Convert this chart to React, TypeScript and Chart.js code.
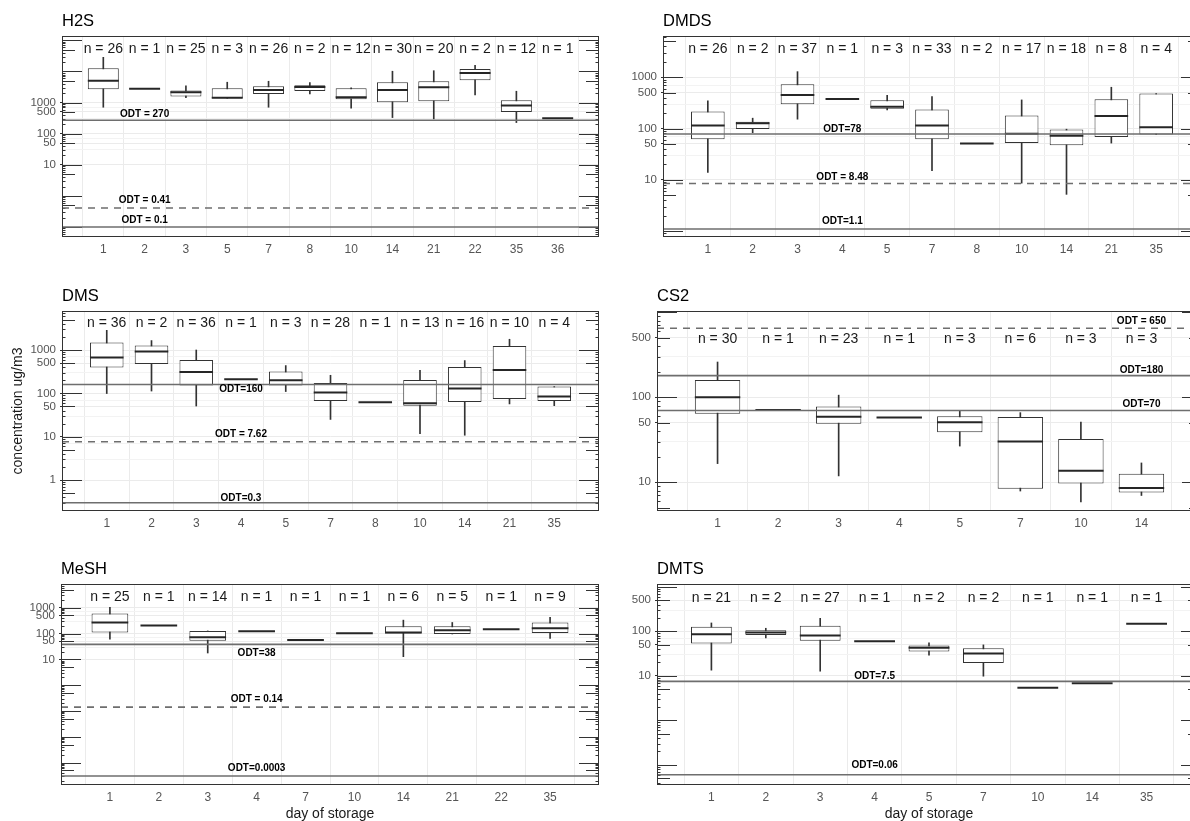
import React, { useEffect, useRef } from 'react';
import { Chart, registerables } from 'chart.js';

Chart.register(...registerables);

const FONT = '"Liberation Sans", Arial, Helvetica, sans-serif';

// ---------------- H2S ----------------
const h2sDays = [1, 2, 3, 5, 7, 8, 10, 14, 21, 22, 35, 36];
const h2sN = [26, 1, 25, 3, 26, 2, 12, 30, 20, 2, 12, 1];
const h2sLo = [710, null, 1450, 1380, 710, 1900, 660, 330, 300, 1770, 228, null];
const h2sQ1 = [2690, null, 1560, 1380, 1900, 2380, 1285, 1030, 1110, 5240, 500, null];
const h2sMed = [5080, 2810, 2160, 1420, 2560, 3190, 1490, 2560, 3120, 8970, 800, 315];
const h2sQ3 = [12700, null, 2430, 2900, 3360, 3610, 2900, 4520, 4860, 12080, 1190, null];
const h2sHi = [28600, null, 3430, 4520, 4860, 4390, 2960, 10200, 10600, 15850, 2320, null];
const h2sOdt = [270, 0.41, 0.1];
const h2sOdtText = ['ODT = 270', 'ODT = 0.41', 'ODT = 0.1'];
const h2sOdtTextY = [425, 0.75, 0.17];
const h2sOdtDashed = [false, true, false];
const h2sTickLabels = [1000, 500, 100, 50, 10];
const h2sRange = [0.0478, 138400];
const h2sNY = 53000;

// ---------------- DMDS ----------------
const dmdsDays = [1, 2, 3, 4, 5, 7, 8, 10, 14, 21, 35];
const dmdsN = [26, 2, 37, 1, 3, 33, 2, 17, 18, 8, 4];
const dmdsLo = [13.9, 83, 152, null, 231, 15, null, 8.6, 5.2, 52, 76];
const dmdsQ1 = [62, 98, 298, null, 242, 62, null, 52, 47, 68, 76];
const dmdsMed = [114, 127, 452, 378, 267, 114, 51, 79, 72, 176, 106];
const dmdsQ3 = [214, 136, 731, null, 357, 234, null, 179, 96, 373, 480];
const dmdsHi = [345, 159, 1285, null, 446, 419, null, 361, 97, 638, 480];
const dmdsOdt = [78, 8.48, 1.1];
const dmdsOdtText = ['ODT=78', 'ODT = 8.48', 'ODT=1.1'];
const dmdsOdtTextY = [97, 11.4, 1.54];
const dmdsOdtDashed = [false, true, false];
const dmdsTickLabels = [1000, 500, 100, 50, 10];
const dmdsRange = [0.766, 6370];
const dmdsNY = 3560;

// ---------------- DMS ----------------
const dmsDays = [1, 2, 3, 4, 5, 7, 8, 10, 14, 21, 35];
const dmsN = [36, 2, 36, 1, 3, 28, 1, 13, 16, 10, 4];
const dmsLo = [99, 113, 51, null, 110, 25, null, 11.8, 10.8, 57, 52];
const dmsQ1 = [393, 476, 151, null, 151, 67, null, 52, 63, 74, 67];
const dmsMed = [668, 919, 311, 211, 200, 104, 62, 59, 129, 346, 85];
const dmsQ3 = [1480, 1264, 588, null, 318, 173, null, 203, 405, 1238, 143];
const dmsHi = [2840, 1650, 1000, null, 437, 261, null, 340, 570, 1770, 143];
const dmsOdt = [160, 7.62, 0.3];
const dmsOdtText = ['ODT=160', 'ODT = 7.62', 'ODT=0.3'];
const dmsOdtTextY = [124, 11.2, 0.38];
const dmsOdtDashed = [false, true, false];
const dmsTickLabels = [1000, 500, 100, 50, 10, 1];
const dmsRange = [0.193, 7940];
const dmsNY = 4070;

// ---------------- CS2 ----------------
const cs2Days = [1, 2, 3, 4, 5, 7, 10, 14];
const cs2N = [30, 1, 23, 1, 3, 6, 3, 3];
const cs2Lo = [16.6, null, 11.9, null, 26.7, 7.9, 5.9, 7.0];
const cs2Q1 = [64, null, 49, null, 38.7, 8.4, 9.7, 7.6];
const cs2Med = [100, 71, 59, 58, 51, 30.3, 13.7, 8.6];
const cs2Q3 = [160, null, 78, null, 60, 58.6, 32.3, 12.6];
const cs2Hi = [260, null, 106, null, 70, 66, 51, 16.9];
const cs2Odt = [650, 180, 70];
const cs2OdtText = ['ODT = 650', 'ODT=180', 'ODT=70'];
const cs2OdtTextY = [791, 208, 82];
const cs2OdtDashed = [true, false, false];
const cs2TickLabels = [500, 100, 50, 10];
const cs2Range = [4.6, 1035];
const cs2NY = 478;

// ---------------- MeSH ----------------
const meshDays = [1, 2, 3, 4, 7, 10, 14, 21, 22, 35];
const meshN = [25, 1, 14, 1, 1, 1, 6, 5, 1, 9];
const meshLo = [60, null, 17.6, null, null, null, 12.7, 96, null, 64];
const meshQ1 = [109, null, 53, null, null, null, 100, 96, null, 105];
const meshMed = [268, 205, 72, 123, 56, 103, 109, 134, 147, 161];
const meshQ3 = [600, null, 126, null, null, null, 192, 192, null, 268];
const meshHi = [1027, null, 126, null, null, null, 330, 268, null, 420];
const meshOdt = [38, 0.14, 0.0003];
const meshOdtText = ['ODT=38', 'ODT = 0.14', 'ODT=0.0003'];
const meshOdtTextY = [16.7, 0.28, 0.00061];
const meshOdtDashed = [false, true, false];
const meshTickLabels = [1000, 500, 100, 50, 10];
const meshRange = [0.000135, 8300];
const meshNY = 2520;

// ---------------- DMTS ----------------
const dmtsDays = [1, 2, 3, 4, 5, 7, 10, 14, 35];
const dmtsN = [21, 2, 27, 1, 2, 2, 1, 1, 1];
const dmtsLo = [13.4, 71, 12.7, null, 29, 9.8, null, null, null];
const dmtsQ1 = [53, 83, 61, null, 35, 19.5, null, null, null];
const dmtsMed = [86, 93.5, 80, 60, 42.5, 31.6, 5.4, 6.8, 147];
const dmtsQ3 = [127, 105, 134, null, 47.8, 41.6, null, null, null];
const dmtsHi = [154, 117, 196, null, 55, 49.5, null, null, null];
const dmtsOdt = [7.5, 0.06];
const dmtsOdtText = ['ODT=7.5', 'ODT=0.06'];
const dmtsOdtTextY = [9.6, 0.1];
const dmtsOdtDashed = [false, false];
const dmtsTickLabels = [500, 100, 50, 10];
const dmtsRange = [0.0352, 1156];
const dmtsNY = 561;

type Panel = {
  name: string;
  days: number[];
  n: number[];
  lo: (number | null)[];
  q1: (number | null)[];
  med: number[];
  q3: (number | null)[];
  hi: (number | null)[];
  odt: number[];
  odtText: string[];
  odtTextY: number[];
  odtDashed: boolean[];
  odtDay: number;
  tickLabels: number[];
  range: number[];
  nY: number;
  rect: number[]; // left, top, right, bottom of the plot panel on the page
  xTitle: boolean;
  yTitle: boolean;
};

const panels: Panel[] = [
  { name: 'H2S', days: h2sDays, n: h2sN, lo: h2sLo, q1: h2sQ1, med: h2sMed, q3: h2sQ3, hi: h2sHi,
    odt: h2sOdt, odtText: h2sOdtText, odtTextY: h2sOdtTextY, odtDashed: h2sOdtDashed, odtDay: 2,
    tickLabels: h2sTickLabels, range: h2sRange, nY: h2sNY, rect: [62, 36, 599, 237], xTitle: false, yTitle: false },
  { name: 'DMDS', days: dmdsDays, n: dmdsN, lo: dmdsLo, q1: dmdsQ1, med: dmdsMed, q3: dmdsQ3, hi: dmdsHi,
    odt: dmdsOdt, odtText: dmdsOdtText, odtTextY: dmdsOdtTextY, odtDashed: dmdsOdtDashed, odtDay: 4,
    tickLabels: dmdsTickLabels, range: dmdsRange, nY: dmdsNY, rect: [663, 36, 1201, 237], xTitle: false, yTitle: false },
  { name: 'DMS', days: dmsDays, n: dmsN, lo: dmsLo, q1: dmsQ1, med: dmsMed, q3: dmsQ3, hi: dmsHi,
    odt: dmsOdt, odtText: dmsOdtText, odtTextY: dmsOdtTextY, odtDashed: dmsOdtDashed, odtDay: 4,
    tickLabels: dmsTickLabels, range: dmsRange, nY: dmsNY, rect: [62, 311, 599, 511], xTitle: false, yTitle: true },
  { name: 'CS2', days: cs2Days, n: cs2N, lo: cs2Lo, q1: cs2Q1, med: cs2Med, q3: cs2Q3, hi: cs2Hi,
    odt: cs2Odt, odtText: cs2OdtText, odtTextY: cs2OdtTextY, odtDashed: cs2OdtDashed, odtDay: 14,
    tickLabels: cs2TickLabels, range: cs2Range, nY: cs2NY, rect: [657, 311, 1202, 511], xTitle: false, yTitle: false },
  { name: 'MeSH', days: meshDays, n: meshN, lo: meshLo, q1: meshQ1, med: meshMed, q3: meshQ3, hi: meshHi,
    odt: meshOdt, odtText: meshOdtText, odtTextY: meshOdtTextY, odtDashed: meshOdtDashed, odtDay: 4,
    tickLabels: meshTickLabels, range: meshRange, nY: meshNY, rect: [61, 584, 599, 785], xTitle: true, yTitle: false },
  { name: 'DMTS', days: dmtsDays, n: dmtsN, lo: dmtsLo, q1: dmtsQ1, med: dmtsMed, q3: dmtsQ3, hi: dmtsHi,
    odt: dmtsOdt, odtText: dmtsOdtText, odtTextY: dmtsOdtTextY, odtDashed: dmtsOdtDashed, odtDay: 4,
    tickLabels: dmtsTickLabels, range: dmtsRange, nY: dmtsNY, rect: [657, 584, 1201, 785], xTitle: true, yTitle: false },
];

const Y_AXIS_W = 60;
const TOP_PAD = 36;
const RIGHT_PAD = 10;

function minorGrid(labels: number[]): number[] {
  const lo = Math.min(...labels);
  const hi = Math.max(...labels);
  const out: number[] = [];
  for (let e = Math.floor(Math.log10(lo)); e <= Math.floor(Math.log10(hi)); e++) {
    [3, 7].forEach((m) => {
      const v = m * Math.pow(10, e);
      if (v > lo && v < hi) out.push(v);
    });
  }
  return out;
}

function makeDecor(p: Panel) {
  return {
    id: 'decor' + p.name,
    afterDatasetsDraw(chart: any) {
      const { ctx, chartArea: a, scales } = chart;
      const x = scales.x;
      const y = scales.y;
      ctx.save();
      ctx.beginPath();
      ctx.rect(a.left, a.top, a.right - a.left, a.bottom - a.top);
      ctx.clip();
      // log ticks (inside, both sides)
      ctx.strokeStyle = '#333';
      ctx.lineWidth = 1;
      const e0 = Math.floor(Math.log10(y.min));
      const e1 = Math.ceil(Math.log10(y.max));
      for (let e = e0; e <= e1; e++) {
        for (let m = 1; m <= 9; m++) {
          const v = m * Math.pow(10, e);
          if (v < y.min || v > y.max) continue;
          const py = Math.round(y.getPixelForValue(v)) + 0.5;
          const len = m === 1 ? 20 : m === 5 ? 13 : 3.5;
          ctx.beginPath();
          ctx.moveTo(a.left, py);
          ctx.lineTo(a.left + len, py);
          ctx.moveTo(a.right, py);
          ctx.lineTo(a.right - len, py);
          ctx.stroke();
        }
      }
      // ODT lines
      p.odt.forEach((v, i) => {
        const py = y.getPixelForValue(v);
        ctx.strokeStyle = '#6e6e6e';
        ctx.lineWidth = 1.6;
        ctx.setLineDash(p.odtDashed[i] ? [7, 6] : []);
        ctx.beginPath();
        ctx.moveTo(a.left, py);
        ctx.lineTo(a.right, py);
        ctx.stroke();
      });
      ctx.setLineDash([]);
      // ODT labels
      const li = x.getLabels().indexOf(String(p.odtDay));
      const lx = x.getPixelForValue(li);
      ctx.font = `bold 10px ${FONT}`;
      ctx.fillStyle = '#000';
      ctx.textAlign = 'center';
      ctx.textBaseline = 'middle';
      p.odtText.forEach((t, i) => {
        ctx.fillText(t, lx, y.getPixelForValue(p.odtTextY[i]));
      });
      ctx.restore();

      ctx.save();
      // panel border
      ctx.strokeStyle = '#333';
      ctx.lineWidth = 1;
      ctx.strokeRect(a.left + 0.5, a.top + 0.5, a.right - a.left - 1, a.bottom - a.top - 1);
      // n labels
      ctx.font = `14px ${FONT}`;
      ctx.fillStyle = '#1a1a1a';
      ctx.textAlign = 'center';
      ctx.textBaseline = 'middle';
      const ny = y.getPixelForValue(p.nY);
      p.n.forEach((n, i) => {
        ctx.fillText(`n = ${n}`, x.getPixelForValue(i + 1), ny);
      });
      // title
      ctx.font = `16.5px ${FONT}`;
      ctx.fillStyle = '#000';
      ctx.textAlign = 'left';
      ctx.fillText(p.name, a.left, a.top - 14.5);
      ctx.restore();
    },
  };
}

function PanelChart({ p }: { p: Panel }) {
  const ref = useRef<HTMLCanvasElement | null>(null);
  const [L, T, R, B] = p.rect;
  const xh = p.xTitle ? 38 : 22;
  const cl = L - Y_AXIS_W;
  const ct = T - TOP_PAD;
  const cw = R - L + Y_AXIS_W + RIGHT_PAD;
  const ch = B - T + TOP_PAD + xh;

  useEffect(() => {
    const canvas = ref.current;
    if (!canvas) return;
    const labels = ['', ...p.days.map(String), ''];
    const pad = (arr: any[]) => [null, ...arr, null];
    const whiskers = pad(p.lo.map((v, i) => (v == null || p.hi[i] == null ? null : [v, p.hi[i]])));
    const boxes = pad(p.q1.map((v, i) => (v == null || p.q3[i] == null ? null : [v, p.q3[i]])));
    const medians = pad(p.med);
    const labelSet = new Set(p.tickLabels);
    const tickVals = [...p.tickLabels, ...minorGrid(p.tickLabels)];
    const halfBox = (c: any) => {
      const xs = c.chart.scales.x;
      if (!xs) return 10;
      return Math.abs(xs.getPixelForValue(1) - xs.getPixelForValue(0)) * 0.375;
    };

    const chart = new Chart(canvas, {
      type: 'bar',
      data: {
        labels,
        datasets: [
          {
            type: 'bar',
            data: whiskers as any,
            backgroundColor: '#333',
            borderWidth: 0,
            barThickness: 1,
            grouped: false,
            order: 3,
          },
          {
            type: 'bar',
            data: boxes as any,
            backgroundColor: '#ffffff',
            borderColor: '#333',
            borderWidth: 1,
            borderSkipped: false,
            categoryPercentage: 1,
            barPercentage: 0.75,
            grouped: false,
            order: 2,
          },
          {
            type: 'line',
            data: medians as any,
            showLine: false,
            pointStyle: 'line',
            pointRadius: halfBox,
            pointHoverRadius: halfBox,
            pointBorderWidth: 2,
            pointBorderColor: '#262626',
            pointBackgroundColor: '#262626',
            order: 1,
          } as any,
        ],
      },
      options: {
        responsive: false,
        animation: false,
        events: [],
        layout: { padding: { left: 0, top: TOP_PAD, right: RIGHT_PAD, bottom: 0 } },
        plugins: {
          legend: { display: false },
          tooltip: { enabled: false },
          title: { display: false },
        },
        scales: {
          x: {
            type: 'category',
            offset: false,
            grid: { color: '#ebebeb', lineWidth: 1, drawTicks: false },
            border: { display: false },
            ticks: {
              autoSkip: false,
              maxRotation: 0,
              minRotation: 0,
              padding: 5,
              color: '#555',
              font: { family: FONT, size: 12 },
            },
            title: {
              display: p.xTitle,
              text: 'day of storage',
              color: '#1a1a1a',
              font: { family: FONT, size: 14 },
              padding: { top: 0, bottom: 0 },
            },
            afterFit: (s: any) => {
              s.height = xh;
            },
          },
          y: {
            type: 'logarithmic',
            min: p.range[0],
            max: p.range[1],
            afterBuildTicks: (s: any) => {
              s.ticks = tickVals.map((v) => ({ value: v }));
            },
            ticks: {
              autoSkip: false,
              padding: 4,
              color: '#555',
              font: { family: FONT, size: 11.5 },
              callback: (v: any) => (labelSet.has(Number(v)) ? String(v) : ''),
            },
            grid: {
              color: (c: any) => (c.tick && labelSet.has(c.tick.value) ? '#ebebeb' : '#f3f3f3'),
              lineWidth: 1,
              tickLength: 2,
              tickColor: (c: any) => (c.tick && labelSet.has(c.tick.value) ? '#333' : 'rgba(0,0,0,0)'),
            },
            border: { display: false },
            title: {
              display: p.yTitle,
              text: 'concentration ug/m3',
              color: '#1a1a1a',
              font: { family: FONT, size: 14 },
              padding: { top: 8, bottom: 0 },
            },
            afterFit: (s: any) => {
              s.width = Y_AXIS_W;
            },
          },
        },
      } as any,
      plugins: [makeDecor(p)],
    });
    return () => chart.destroy();
  }, []);

  return (
    <canvas
      ref={ref}
      width={cw}
      height={ch}
      style={{ position: 'absolute', left: cl, top: ct, width: cw, height: ch }}
    />
  );
}

export default function App() {
  return (
    <div
      style={{
        position: 'absolute',
        left: 0,
        top: 0,
        width: 1190,
        height: 821,
        overflow: 'hidden',
        background: '#fff',
      }}
    >
      {panels.map((p) => (
        <PanelChart key={p.name} p={p} />
      ))}
    </div>
  );
}
